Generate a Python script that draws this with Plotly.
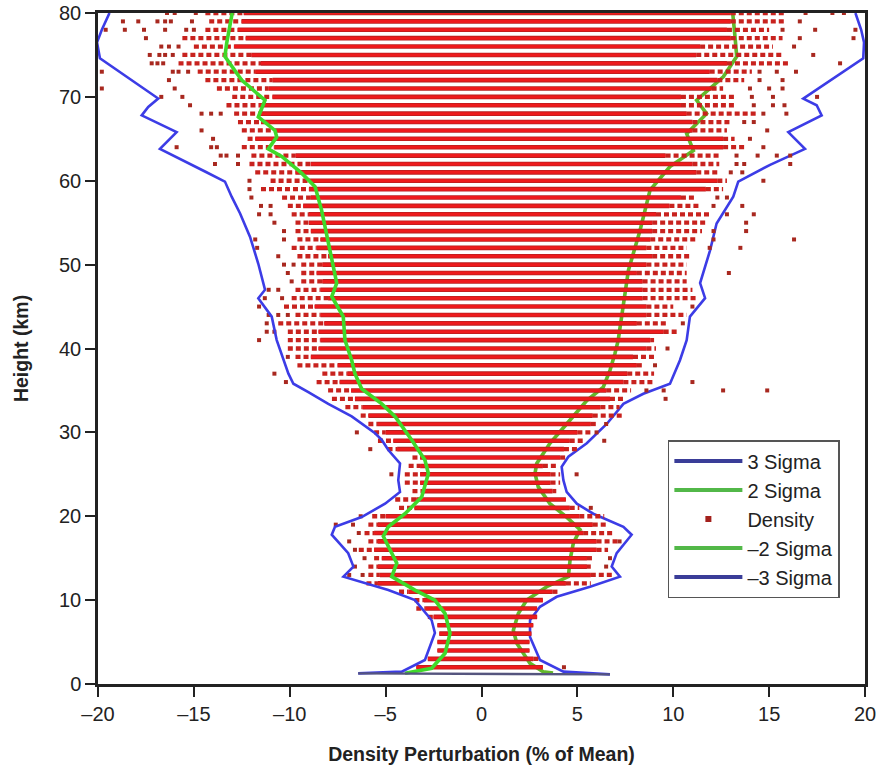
import plotly.graph_objects as go

# ---------------- data ----------------
# Density observation rows (one per km); solid core extent and sparser dashed extent
row_h = list(range(2, 81))
left_dash = [-3.4, -2.8, -2.3, -2.3, -2.2, -2.3, -2.8, -3.4, -3.5,
             -4.3, -6.0, -5.9, -5.9, -5.6, -6.4, -5.9, -6.1, -5.9, -5.7,
             -4.3, -4.5, -3.6, -4.0, -4.0, -3.8, -3.6, -4.9, -5.4, -5.6,
             -5.9, -6.3, -7.1, -7.8, -8.0, -8.6, -8.3, -9.6, -9.7, -10.1,
             -10.1, -10.1, -10.6, -9.7, -10.3, -9.9, -9.7, -9.4, -9.4, -9.4,
             -9.6, -9.9, -9.6, -9.7, -9.7, -9.9, -10.1, -10.4, -11.5, -11.0,
             -11.8, -12.1, -12.0, -12.5, -12.2, -12.5, -12.7, -12.9, -13.3, -13.0,
             -13.8, -14.4, -14.8, -15.8, -15.6, -15.0, -15.6, -14.4, -14.2, -14.4]
left_solid = [-3.4, -2.8, -2.3, -2.3, -2.2, -2.3, -2.5, -2.9, -3.0,
              -3.8, -5.4, -5.3, -5.4, -5.2, -5.6, -5.4, -5.6, -5.4, -5.0,
              -3.5, -3.4, -3.0, -3.2, -3.2, -3.2, -3.2, -4.4, -4.6, -5.0,
              -5.4, -5.9, -6.2, -6.6, -6.8, -7.4, -7.0, -7.5, -8.9, -8.5,
              -8.4, -8.5, -8.2, -8.4, -8.7, -8.0, -8.4, -8.3, -8.6, -8.3,
              -8.0, -8.6, -8.4, -8.9, -9.0, -9.0, -9.3, -8.9, -9.0, -9.0,
              -9.7, -8.9, -9.7, -10.8, -11.8, -10.8, -11.5, -11.6, -11.6, -10.9,
              -11.1, -10.9, -11.8, -11.5, -12.0, -12.9, -12.3, -12.7, -12.5, -12.4]
right_solid = [3.2, 2.7, 2.5, 2.5, 2.6, 2.7, 2.9, 2.9, 3.2,
               3.7, 4.4, 5.7, 5.5, 5.5, 6.0, 6.0, 5.3, 5.8, 5.1,
               4.6, 4.4, 3.7, 3.6, 3.6, 3.2, 4.1, 4.3, 4.6, 5.0,
               5.7, 5.8, 6.2, 6.7, 6.5, 7.4, 7.6, 8.1, 7.9, 8.6,
               8.8, 9.5, 8.1, 8.6, 8.6, 8.4, 8.4, 8.4, 8.1, 8.6,
               8.9, 8.6, 8.8, 8.9, 8.9, 9.1, 9.8, 10.4, 11.7, 12.3,
               11.2, 11.0, 9.6, 12.6, 12.6, 11.0, 11.0, 10.7, 10.4, 10.4,
               12.0, 12.3, 11.9, 12.8, 11.2, 11.4, 13.0, 12.8, 13.0, 13.0]
right_dash = [3.2, 3.0, 2.5, 2.5, 2.6, 2.7, 2.9, 2.9, 3.2,
              4.1, 5.7, 6.9, 5.7, 5.8, 6.6, 7.1, 6.9, 6.5, 6.4,
              5.1, 4.4, 3.9, 4.1, 4.1, 3.9, 4.5, 5.1, 5.3, 5.7,
              6.1, 7.4, 7.2, 7.5, 7.8, 9.0, 9.0, 8.5, 9.0, 9.1,
              9.0, 10.2, 9.7, 10.7, 10.0, 11.2, 11.0, 10.7, 10.7, 10.7,
              10.9, 10.7, 11.2, 11.5, 11.8, 11.9, 11.4, 11.2, 12.6, 12.8,
              12.4, 12.4, 12.4, 13.8, 13.2, 12.8, 13.0, 14.3, 13.3, 13.2,
              12.6, 13.7, 14.1, 16.1, 15.7, 15.2, 15.7, 15.0, 15.9, 15.9]

# isolated density observations (x = % of mean, h = km)
out_x = [-16.4, -16.0, -14.9, -18.7, -17.9, -16.9, -16.5, -16.2, -15.1,
         -19.6, -18.6, -17.6, -16.5, -15.4, -15.0, -17.5, -16.7, -16.3, -15.8,
         -17.3, -16.8, -16.5, -16.1, -17.2, -16.9, -16.6, -16.1, -15.8, -15.3,
         -16.3, -16.0, -16.7, -15.6, -15.2, -14.6, -14.1, -13.6, -14.6, -14.0,
         -15.9, -14.1, -13.8, -13.6, -13.3, -12.7, -13.9, -12.7, -12.1,
         -12.1, -12.0, -11.5, -11.0, -11.6, -11.0, -10.8, -10.3, -11.8, -10.3,
         -11.7, -10.6, -10.3, -9.8, -10.1, -9.9, -11.1, -10.6, -11.3, -10.4,
         -11.6, -11.1, -10.6, -10.1, -11.2, -11.2, -10.8, -11.6,
         -10.1, -10.8, -10.2, -6.5, -5.8, -4.7, -6.3, -7.6, -6.7, -6.4, -6.9,
         -6.6, -6.1, -6.6, -6.9, -6.2, -19.8, -19.8,
         16.9, 18.3, 18.9, 16.6, 15.7, 17.4, 19.5, 16.6, 19.4, 16.3, 17.3, 18.7,
         14.5, 15.4, 16.4, 14.5, 15.7, 14.0, 15.0, 15.7, 14.1, 15.2, 17.5,
         14.2, 15.2, 15.8, 14.7, 15.9, 13.7, 14.2, 14.9, 14.0, 14.7,
         13.3, 14.4, 15.4, 16.1, 13.3, 13.7, 16.1, 13.0, 13.6, 14.7,
         12.3, 12.8, 12.1, 13.6, 12.8, 14.2, 13.8, 12.1, 13.8, 12.1, 16.3,
         11.9, 13.5, 12.9, 11.0, 10.5, 9.7, 9.05, 11.0, 8.6, 9.5, 12.6, 14.9,
         9.6, 6.5, 6.0, 6.4, 4.96, 5.7, 7.2, 6.7, 6.5, 4.3]
out_h = [80, 80, 80, 79, 79, 79, 79, 79, 79,
         78, 78, 78, 78, 78, 78, 77, 76, 76, 76,
         75, 75, 75, 75, 74, 74, 74, 73, 73, 73,
         72, 71, 70, 70, 69, 68, 68, 68, 66, 65,
         64, 64, 64, 63, 63, 63, 62, 62, 60,
         59, 58, 57, 57, 56, 56, 55, 54, 53, 53,
         52, 51, 50, 50, 49, 48, 47, 47, 46, 46,
         45, 44, 44, 44, 43, 42, 42, 41,
         39, 37, 36, 30, 28, 25, 20, 19, 19, 18, 17,
         16, 15, 14, 13, 13, 73, 71,
         80, 80, 80, 79, 78, 78, 78, 77, 77, 76, 75, 74,
         73, 73, 73, 72, 72, 71, 71, 71, 70, 70, 70,
         69, 69, 69, 68, 68, 67, 67, 66, 65, 64,
         63, 63, 63, 63, 62, 62, 62, 61, 61, 60,
         58, 58, 57, 57, 56, 56, 55, 54, 54, 53, 53,
         52, 52, 49, 45, 43, 40, 38, 36, 35, 35, 35, 35,
         34, 31, 30, 29, 25, 21, 17, 15, 14, 2]

# sigma envelopes (% of mean)
s3p_h = [1.15, 1.47, 2.86, 5.6, 7.6, 9.2, 10.4, 11.6, 12.8, 14.0, 15.6, 17.8, 18.75, 20.3,
         21.5, 22.9, 24.3, 25.9, 27.1, 28.7, 31.0, 33.4, 34.6, 35.8, 38.6, 41.0, 43.8,
         46.0, 47.8, 51.7, 54.9, 58.1, 59.9, 61.9, 63.8, 65.8, 67.8, 69.0, 69.8, 74.6,
         76.5, 78.0, 80.0]
s3p_x = [6.7, 4.27, 3.05, 2.53, 2.53, 3.05, 3.92, 5.66, 7.22, 6.79, 7.05, 7.83, 7.4, 5.83,
         4.97, 4.44, 4.27, 4.18, 4.53, 5.49, 6.53, 7.4, 8.44, 9.83, 10.35, 10.7, 10.87,
         11.66, 11.4, 11.92, 12.26, 13.13, 13.39, 15.05, 16.87, 16.0, 17.74, 17.48, 16.78, 19.91,
         19.95, 19.8, 19.5]
s2p_h = [1.3, 1.47, 2.46, 4.85, 6.4, 8.4, 10.0, 11.6, 12.8, 14.8, 16.8, 18.4, 19.9, 21.5,
         23.5, 25.1, 26.3, 28.7, 31.0, 33.8, 35.4, 37.4, 39.4, 41.0, 49.3, 54.1, 58.9,
         61.7, 63.6, 65.6, 68.0, 69.6, 72.4, 74.8, 77.2, 79.5, 80.0]
s2p_x = [3.73, 3.22, 2.53, 1.84, 1.66, 1.92, 2.36, 3.4, 4.53, 4.62, 4.79, 5.14, 4.44, 3.57,
         2.96, 2.79, 2.88, 3.57, 4.44, 5.49, 6.35, 6.7, 6.96, 7.13, 7.66, 8.27, 8.79,
         9.83, 11.05, 10.7, 11.74, 11.22, 12.61, 13.31, 13.22, 13.13, 13.1]
s2m_h = [1.27, 1.87, 3.66, 6.04, 8.4, 10.0, 11.2, 12.8, 14.4, 16.4, 17.6, 18.75, 20.3, 22.3,
         25.1, 26.7, 29.1, 31.9, 33.4, 35.2, 37.0, 38.6, 41.0, 43.8, 46.2, 47.8, 52.5,
         56.5, 59.3, 60.9, 62.9, 63.8, 65.2, 66.0, 67.6, 69.6, 72.0, 74.8, 76.4, 78.7, 80.0]
s2m_x = [-3.99, -2.6, -1.9, -1.64, -1.9, -2.43, -3.47, -4.68, -4.42, -4.86, -5.12, -4.86, -3.99, -3.12,
         -2.77, -2.95, -3.64, -4.51, -5.2, -6.25, -6.6, -6.77, -7.12, -7.21, -7.81, -7.55, -7.99,
         -8.34, -8.68, -9.38, -10.42, -11.12, -10.68, -10.77, -11.64, -11.29, -12.51, -13.38, -13.29, -13.12, -13.0]
s3m_h = [1.27, 1.47, 2.86, 6.1, 7.6, 10.0, 11.2, 12.0, 12.8, 14.0, 15.6, 17.8, 18.75, 19.9,
         21.5, 22.9, 24.3, 26.3, 27.9, 29.1, 29.9, 31.9, 33.4, 34.8, 35.8, 37.0, 39.4,
         41.0, 43.8, 46.0, 47.0, 50.1, 53.3, 56.1, 58.1, 59.9, 61.1, 63.8, 65.8, 67.8, 68.8,
         69.8, 74.6, 76.5, 78.0, 80.0]
s3m_x = [-6.43, -4.16, -2.95, -2.43, -2.6, -3.47, -4.86, -6.08, -7.2, -6.68, -6.95, -7.81, -7.64, -6.25,
         -5.03, -4.25, -4.34, -4.25, -4.86, -5.2, -5.55, -6.77, -7.99, -9.03, -9.81, -10.07, -10.42,
         -10.68, -10.94, -11.64, -11.29, -11.64, -12.07, -12.59, -13.03, -13.38, -14.42, -16.77, -15.9, -17.72, -17.38,
         -16.86, -19.9, -20.05, -19.8, -19.4]

x_ticks = [-20, -15, -10, -5, 0, 5, 10, 15, 20]
x_tick_text = ["–20", "–15", "–10", "–5", "0", "5", "10", "15", "20"]
y_ticks = [0, 10, 20, 30, 40, 50, 60, 70, 80]

# ---------------- styling ----------------
FONT = "Liberation Sans, Arial, Helvetica, sans-serif"
BLUE = "#3c3ce6"
GREEN = "#3fd92a"
GREEN_UNDER = "#62b82a"
RED = "#ee1a1c"
RED_DARK = "#b81f1f"
DOT = "#a8281f"


def segments(a, b, hs):
    xs, ys = [], []
    for x0, x1, h in zip(a, b, hs):
        if x1 - x0 > 1e-9:
            xs += [x0, x1, None]
            ys += [h, h, None]
    return xs, ys


fig = go.Figure()

# positive envelopes (drawn beneath the observations)
fig.add_trace(go.Scatter(x=s3p_x, y=s3p_h, mode="lines", line=dict(color=BLUE, width=2.6),
                         showlegend=False, hoverinfo="skip"))
fig.add_trace(go.Scatter(x=s2p_x, y=s2p_h, mode="lines", line=dict(color=GREEN_UNDER, width=3.6),
                         showlegend=False, hoverinfo="skip"))

# density observations
dx, dy = segments(left_dash, left_solid, row_h)
dx2, dy2 = segments(right_solid, right_dash, row_h)
fig.add_trace(go.Scatter(x=dx + dx2, y=dy + dy2, mode="lines",
                         line=dict(color="#c8221e", width=4.3, dash="5px,3px"),
                         showlegend=False, hoverinfo="skip"))
sx, sy = segments(left_solid, right_solid, row_h)
fig.add_trace(go.Scatter(x=sx, y=sy, mode="lines", line=dict(color=RED_DARK, width=4.6),
                         showlegend=False, hoverinfo="skip"))
fig.add_trace(go.Scatter(x=sx, y=sy, mode="lines", line=dict(color=RED, width=3.0),
                         showlegend=False, hoverinfo="skip"))
fig.add_trace(go.Scatter(x=out_x, y=out_h, mode="markers",
                         marker=dict(symbol="square", size=4, color=DOT, line=dict(width=0)),
                         showlegend=False, hoverinfo="skip"))

# negative envelopes (drawn on top)
fig.add_trace(go.Scatter(x=s2m_x, y=s2m_h, mode="lines", line=dict(color=GREEN, width=3.6),
                         showlegend=False, hoverinfo="skip"))
fig.add_trace(go.Scatter(x=s3m_x, y=s3m_h, mode="lines", line=dict(color=BLUE, width=2.6),
                         showlegend=False, hoverinfo="skip"))
# surface level joining the lowest 3-sigma points
fig.add_trace(go.Scatter(x=[s3m_x[0], s3p_x[0]], y=[s3m_h[0], s3p_h[0]], mode="lines",
                         line=dict(color="#55557e", width=2.4), showlegend=False, hoverinfo="skip"))

# legend entries
LEG_BLUE = "#3a3d98"
LEG_GREEN = "#52b848"
fig.add_trace(go.Scatter(x=[None], y=[None], mode="lines", name="3 Sigma",
                         line=dict(color=LEG_BLUE, width=4), legendrank=1))
fig.add_trace(go.Scatter(x=[None], y=[None], mode="lines", name="2 Sigma",
                         line=dict(color=LEG_GREEN, width=4), legendrank=2))
fig.add_trace(go.Scatter(x=[None], y=[None], mode="markers", name="Density",
                         marker=dict(symbol="square", size=6, color="#a3201c"), legendrank=3))
fig.add_trace(go.Scatter(x=[None], y=[None], mode="lines", name="–2 Sigma",
                         line=dict(color=LEG_GREEN, width=4), legendrank=4))
fig.add_trace(go.Scatter(x=[None], y=[None], mode="lines", name="–3 Sigma",
                         line=dict(color=LEG_BLUE, width=4), legendrank=5))

fig.update_layout(
    width=878, height=773,
    margin=dict(l=98, r=13, t=13, b=89, autoexpand=False),
    paper_bgcolor="white", plot_bgcolor="white",
    font=dict(family=FONT, size=20, color="#222"),
    showlegend=True,
    legend=dict(x=0.743, y=0.3636, xanchor="left", yanchor="top",
                bgcolor="white", bordercolor="#555", borderwidth=1.5,
                font=dict(family=FONT, size=20, color="#222"),
                itemwidth=68, tracegroupgap=0),
)
fig.update_xaxes(range=[-20, 20], tickvals=x_ticks, ticktext=x_tick_text, automargin=False,
                 showgrid=False, zeroline=False, showline=True, linecolor="#222", linewidth=2.5,
                 mirror=True, ticks="outside", ticklen=10, tickwidth=2, tickcolor="#222",
                 tickfont=dict(size=20),
                 title=dict(text="Density Perturbation (% of Mean)", standoff=24,
                            font=dict(size=19.5, weight="bold", color="#222")))
fig.update_yaxes(range=[0, 80], tickvals=y_ticks, automargin=False,
                 showgrid=False, zeroline=False, showline=True, linecolor="#222", linewidth=2.5,
                 mirror=True, ticks="outside", ticklen=10, tickwidth=2, tickcolor="#222",
                 tickfont=dict(size=20),
                 title=dict(text="Height (km)", standoff=26,
                            font=dict(size=19.5, weight="bold", color="#222")))

fig.write_html("out.html")
